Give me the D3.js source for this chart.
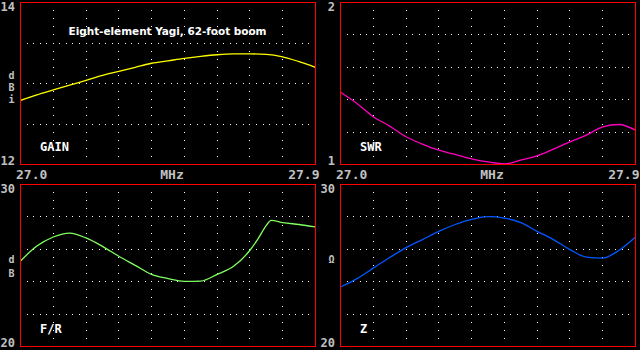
<!DOCTYPE html>
<html>
<head>
<meta charset="utf-8">
<script src="https://cdnjs.cloudflare.com/ajax/libs/d3/7.8.5/d3.min.js"></script>
<style>
  html, body { margin: 0; padding: 0; background: #000; }
  svg { display: block; }
  text { font-family: "DejaVu Sans Mono", monospace; font-weight: bold; }
</style>
</head>
<body>
<div id="chart"></div>
<script>
// frequency sweep, MHz
const freqs = [27.00, 27.05, 27.10, 27.15, 27.20, 27.25, 27.30, 27.35, 27.40, 27.45,
               27.50, 27.55, 27.60, 27.65, 27.70, 27.75, 27.80, 27.85, 27.90];

const gainDbi = [12.79, 12.86, 12.92, 12.98, 13.04, 13.10, 13.15, 13.20, 13.25, 13.28,
                 13.31, 13.335, 13.355, 13.365, 13.365, 13.36, 13.33, 13.27, 13.20];

const swrValues = [1.446, 1.377, 1.295, 1.237, 1.171, 1.126, 1.088, 1.062, 1.035, 1.016,
                   1.004, 1.027, 1.053, 1.095, 1.140, 1.181, 1.233, 1.247, 1.212];

const zOhms = [23.67, 24.19, 24.84, 25.49, 26.10, 26.60, 27.11, 27.53, 27.85, 28.02,
               27.93, 27.65, 27.11, 26.60, 25.98, 25.52, 25.46, 25.94, 26.76];

// F/R has a sharp peak, so it gets a couple of extra readings
const frFreqs = [27.00, 27.05, 27.10, 27.15, 27.20, 27.25, 27.30, 27.35, 27.40, 27.45,
                 27.50, 27.55, 27.60, 27.65, 27.70, 27.725, 27.75, 27.765, 27.80, 27.85, 27.90];
const frDb = [25.28, 26.20, 26.76, 27.00, 26.70, 26.18, 25.57, 25.01, 24.45, 24.19,
              24.02, 24.04, 24.45, 24.95, 25.94, 26.66, 27.48, 27.79, 27.65, 27.53, 27.38];

const freqDomain = [27.0, 27.9];
const freqLabels = ["27.0", "MHz", "27.9"];

const W = 640, H = 350;
const FONT_PX = 12;

const svg = d3.select("#chart").append("svg")
  .attr("width", W)
  .attr("height", H)
  .style("background", "#000");

const panels = [
  {
    x0: 20.5, x1: 315.5, y0: 2.5, y1: 164.5,
    domain: [12, 14], majors: 4, subs: 5,
    xs: freqs, ys: gainDbi, color: "#ffff00",
    top: "14", bottom: "12", name: "GAIN",
    unit: [["d", 78.5], ["B", 90.5], ["i", 102.5]]
  },
  {
    x0: 340.5, x1: 635.5, y0: 2.5, y1: 164.5,
    domain: [1, 2], majors: 5, subs: 4,
    xs: freqs, ys: swrValues, color: "#ff00c0",
    top: "2", bottom: "1", name: "SWR",
    unit: []
  },
  {
    x0: 20.5, x1: 315.5, y0: 184.5, y1: 346.5,
    domain: [20, 30], majors: 5, subs: 4,
    xs: frFreqs, ys: frDb, color: "#80ff60",
    top: "30", bottom: "20", name: "F/R",
    unit: [["d", 262.5], ["B", 276.5]]
  },
  {
    x0: 340.5, x1: 635.5, y0: 184.5, y1: 346.5,
    domain: [20, 30], majors: 5, subs: 4,
    xs: freqs, ys: zOhms, color: "#0058ff",
    top: "30", bottom: "20", name: "Z",
    unit: [["Ω", 262.5]]
  }
];

panels.forEach(p => {
  const x = d3.scaleLinear().domain(freqDomain).range([p.x0, p.x1]);
  const y = d3.scaleLinear().domain(p.domain).range([p.y1, p.y0]);
  const g = svg.append("g");

  // ---------- dotted grid ----------
  const xMajor = d3.range(1, 9).map(i => freqDomain[0] + i * 0.1);
  const yStep = (p.domain[1] - p.domain[0]) / p.majors;
  const yMajor = d3.range(1, p.majors).map(i => p.domain[0] + i * yStep);
  const xDots = d3.range(1, 45).map(k => freqDomain[0] + k * 0.02);
  const ySubStep = yStep / p.subs;
  const yDots = d3.range(1, p.majors * p.subs).map(k => p.domain[0] + k * ySubStep);

  const dots = [];
  yMajor.forEach(v => xDots.forEach(f => dots.push([x(f), y(v)])));
  xMajor.forEach(f => yDots.forEach(v => dots.push([x(f), y(v)])));

  g.selectAll("rect.dot")
    .data(dots)
    .join("rect")
    .attr("class", "dot")
    .attr("x", d => Math.floor(d[0]))
    .attr("y", d => Math.floor(d[1]))
    .attr("width", 1)
    .attr("height", 1)
    .attr("fill", "#ffffff");

  // ---------- curve ----------
  const line = d3.line()
    .x((d, i) => x(p.xs[i]))
    .y(d => y(d))
    .curve(d3.curveMonotoneX);

  g.append("path")
    .datum(p.ys)
    .attr("fill", "none")
    .attr("stroke", p.color)
    .attr("stroke-width", 1.3)
    .attr("d", line);

  // ---------- frame ----------
  g.append("rect")
    .attr("x", p.x0)
    .attr("y", p.y0)
    .attr("width", p.x1 - p.x0)
    .attr("height", p.y1 - p.y0)
    .attr("fill", "none")
    .attr("stroke", "#ff0000")
    .attr("stroke-width", 1);

  // ---------- scale labels ----------
  g.append("text")
    .attr("x", p.x0 - 5.5)
    .attr("y", p.y0 + 8.5)
    .attr("text-anchor", "end")
    .attr("font-size", FONT_PX)
    .attr("fill", "#c0c0c0")
    .text(p.top);

  g.append("text")
    .attr("x", p.x0 - 5.5)
    .attr("y", p.y1)
    .attr("text-anchor", "end")
    .attr("font-size", FONT_PX)
    .attr("fill", "#c0c0c0")
    .text(p.bottom);

  // unit letters stacked vertically
  p.unit.forEach(([ch, by]) => {
    g.append("text")
      .attr("x", p.x0 - 9)
      .attr("y", by)
      .attr("text-anchor", "middle")
      .attr("font-size", 10)
      .attr("fill", "#c0c0c0")
      .text(ch);
  });

  // ---------- panel name ----------
  g.append("text")
    .attr("x", p.x0 + 19.5)
    .attr("y", p.y1 - 14)
    .attr("font-size", FONT_PX)
    .attr("fill", "#ffffff")
    .text(p.name);
});

// ---------- frequency labels (shared by both rows) ----------
[[20.5, 315.5], [340.5, 635.5]].forEach(([a, b]) => {
  const row = svg.append("g").attr("fill", "#c0c0c0").attr("font-size", 13);
  row.append("text").attr("x", a - 4.5).attr("y", 178.5).text(freqLabels[0]);
  row.append("text").attr("x", (a + b) / 2 + 4).attr("y", 178.5)
    .attr("text-anchor", "middle").text(freqLabels[1]);
  row.append("text").attr("x", b + 4).attr("y", 178.5)
    .attr("text-anchor", "end").text(freqLabels[2]);
});

// ---------- title ----------
svg.append("text")
  .attr("x", 68.5)
  .attr("y", 34.5)
  .style("font-family", "'DejaVu Sans', sans-serif")
  .style("font-weight", "bold")
  .attr("font-size", 10.5)
  .attr("fill", "#ffffff")
  .attr("textLength", 198)
  .attr("lengthAdjust", "spacing")
  .text("Eight-element Yagi, 62-foot boom");
</script>
</body>
</html>
